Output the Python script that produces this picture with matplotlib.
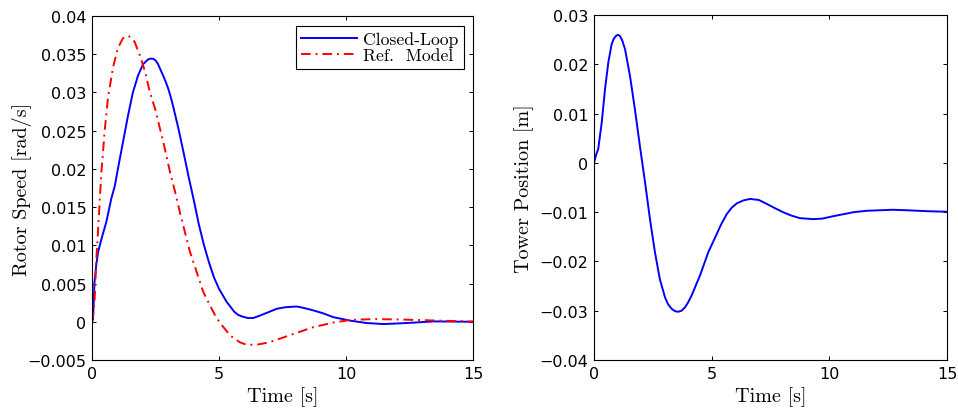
import numpy as np
import matplotlib
matplotlib.use('Agg')
import matplotlib.pyplot as plt
from matplotlib.ticker import FuncFormatter

# Rotor speed, closed loop
t_cl = [0, 0.04, 0.1, 0.17, 0.24, 0.37, 0.56, 0.76, 0.9, 1.02, 1.22, 1.42, 1.61,
        1.81, 2.01, 2.2, 2.3, 2.41, 2.5, 2.6, 2.8, 2.9, 3.0, 3.1, 3.2, 3.4,
        3.6, 3.8, 4.0, 4.2, 4.4, 4.6, 4.8, 5.0, 5.3, 5.6, 5.75, 5.9, 6.15,
        6.35, 6.6, 6.9, 7.27, 7.6, 8.05, 8.35, 8.7, 9.1, 9.5, 10.16, 10.8,
        11.47, 12.4, 13.44, 15]
w_cl = [0, 0.0003, 0.0052, 0.0075, 0.0091, 0.0108, 0.013, 0.0161, 0.0178, 0.02,
        0.0235, 0.027, 0.030, 0.0322, 0.0337, 0.0343, 0.03443, 0.0344, 0.0342,
        0.0337, 0.0322, 0.0314, 0.0305, 0.0294, 0.0281, 0.0253, 0.0222, 0.019,
        0.016, 0.0128, 0.0101, 0.0078, 0.0058, 0.0043, 0.0026, 0.0013, 0.0009,
        0.0007, 0.00048, 0.0005, 0.0008, 0.0012, 0.0017, 0.0019, 0.002,
        0.0018, 0.0015, 0.0011, 0.0006, 0.00015, -0.00016, -0.0003, -0.00016,
        0.00005, 0]

# Rotor speed, reference model
t_ref = [0, 0.05, 0.1, 0.17, 0.24, 0.3, 0.37, 0.5, 0.63, 0.83, 1.02, 1.22, 1.33,
         1.44, 1.56, 1.68, 1.9, 2.09, 2.28, 2.48, 2.68, 2.87, 3.07, 3.27, 3.46,
         3.66, 3.86, 4.12, 4.38, 4.65, 4.85, 5.05, 5.44, 5.83, 6.0, 6.2, 6.48,
         6.8, 7.14, 7.92, 8.71, 9.5, 10.16, 11.08, 12.13, 13.44, 15]
w_ref = [0, 0.001, 0.0025, 0.008, 0.012, 0.0155, 0.0195, 0.025, 0.0293, 0.0333,
         0.0358, 0.0371, 0.0373, 0.0374, 0.0371, 0.0366, 0.0347, 0.0327, 0.030,
         0.0279, 0.0252, 0.0226, 0.0196, 0.017, 0.0143, 0.0117, 0.0091, 0.0065,
         0.0039, 0.0021, 0.0008, -0.0002, -0.0018, -0.0027, -0.0029, -0.0030,
         -0.0030, -0.0028, -0.0025, -0.0016, -0.0007, -0.0001, 0.00024,
         0.00035, 0.0003, 0.00017, 0.00003]

# Tower position
t_tw = [0, 0.1, 0.18, 0.33, 0.47, 0.61, 0.75, 0.85, 0.96, 1.03, 1.1, 1.2, 1.32,
        1.53, 1.74, 1.95, 2.17, 2.38, 2.59, 2.8, 3.02, 3.15, 3.3, 3.45, 3.58,
        3.72, 3.87, 4.0, 4.15, 4.5, 4.86, 5.18, 5.4, 5.64, 5.85, 6.07, 6.35,
        6.63, 7.0, 7.34, 7.7, 8.04, 8.4, 8.75, 9.32, 9.7, 10.17, 10.6, 11.02,
        11.6, 12.15, 12.7, 13.29, 14.2, 15]
x_tw = [0, 0.0018, 0.0028, 0.0082, 0.015, 0.0204, 0.0241, 0.0253, 0.0259,
        0.0260, 0.0258, 0.0249, 0.0231, 0.0177, 0.0109, 0.0035, -0.0039,
        -0.0114, -0.0181, -0.0236, -0.0273, -0.0287, -0.0296, -0.0301, -0.0302,
        -0.0300, -0.0293, -0.0283, -0.0269, -0.0229, -0.0181, -0.0148, -0.0125,
        -0.0104, -0.0091, -0.0082, -0.0076, -0.0073, -0.0075, -0.0083, -0.0092,
        -0.01, -0.0107, -0.0112, -0.0114, -0.0113, -0.0108, -0.0104, -0.01,
        -0.0097, -0.0096, -0.0095, -0.0096, -0.0098, -0.0099]

xticks = [0, 5, 10, 15]
yticks_left = [-0.005, 0, 0.005, 0.01, 0.015, 0.02, 0.025, 0.03, 0.035, 0.04]
yticks_right = [-0.04, -0.03, -0.02, -0.01, 0, 0.01, 0.02, 0.03]

plt.rcParams['axes.unicode_minus'] = True
lab = {'family': 'cmr10', 'size': 14.5}


def fmt(v, pos):
    return ('%g' % v).replace('-', '\u2212')


def style(ax, yticks):
    ax.set_xlim(0, 15)
    ax.set_xticks(xticks)
    ax.set_yticks(yticks)
    ax.set_ylim(yticks[0], yticks[-1])
    ax.yaxis.set_major_formatter(FuncFormatter(fmt))
    ax.xaxis.set_major_formatter(FuncFormatter(fmt))
    ax.tick_params(direction='in', length=3, width=0.7, top=True, right=True,
                   labelsize=11.5, pad=4)
    for s in ax.spines.values():
        s.set_linewidth(0.8)
    ax.set_xlabel('Time [s]', fontdict=lab, labelpad=4)


fig = plt.figure(figsize=(9.58, 4.10), dpi=100)
ax1 = fig.add_axes([0.096, 0.1195, 0.398, 0.839])
ax2 = fig.add_axes([0.620, 0.1195, 0.3685, 0.841])

ax1.plot(t_cl, w_cl, color='#0000ff', lw=1.4, label='Closed-Loop')
ax1.plot(t_ref, w_ref, color='#ff0000', lw=1.4, dashes=(5, 2.5, 1, 2.5),
         label='Ref.  Model')
style(ax1, yticks_left)
ax1.set_ylabel('Rotor Speed [rad/s]', fontdict=lab)
ax1.yaxis.set_label_coords(-0.157, 0.5)
leg = ax1.legend(loc='upper right', bbox_to_anchor=(0.976, 0.971),
                 prop={'family': 'cmr10', 'size': 12.7}, fancybox=False,
                 framealpha=1, edgecolor='black', borderpad=0.3,
                 labelspacing=0.05, handlelength=3.2, handletextpad=0.35,
                 borderaxespad=0)
leg.get_frame().set_linewidth(0.8)

ax2.plot(t_tw, x_tw, color='#0000ff', lw=1.4)
style(ax2, yticks_right)
ax2.set_ylabel('Tower Position [m]', fontdict=lab)
ax2.yaxis.set_label_coords(-0.17, 0.5)

fig.savefig('out.png', dpi=100)
